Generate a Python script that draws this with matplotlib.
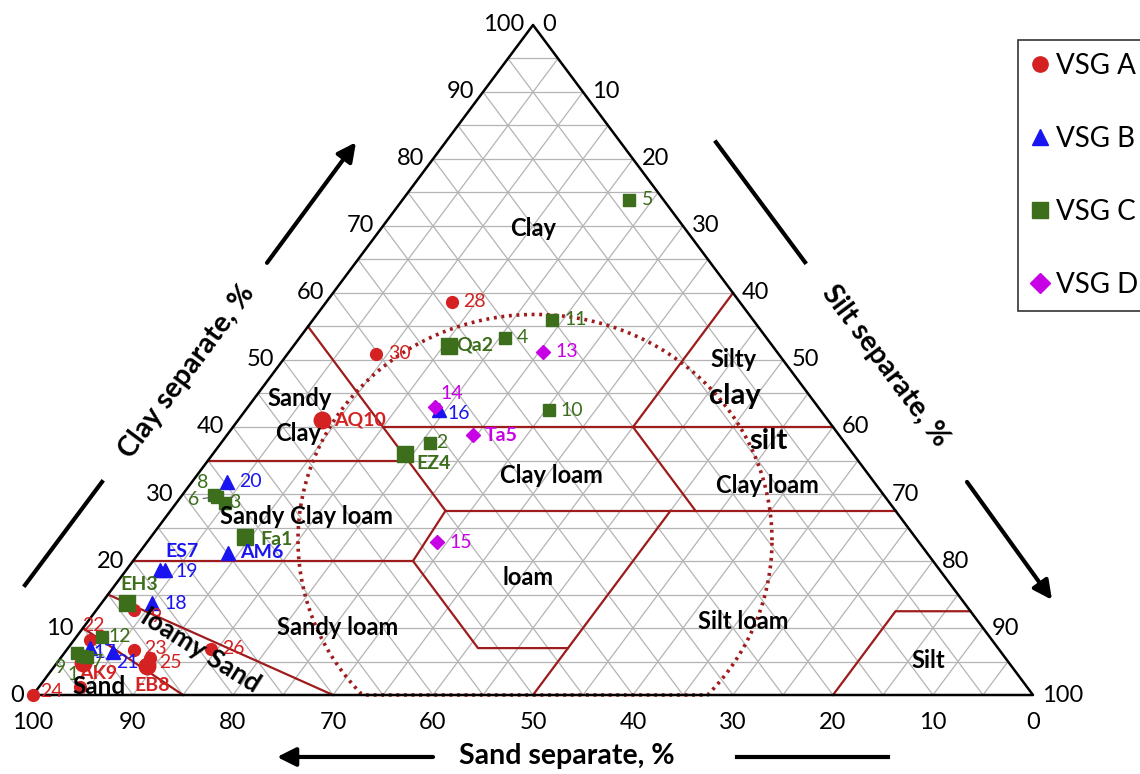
import numpy as np
import matplotlib.pyplot as plt
from matplotlib.lines import Line2D

plt.rcParams['font.family'] = ['Lato', 'DejaVu Sans']

# ---- sample data: sand %, clay % (silt is the rest) ----
a_labels = ['28', '30', 'AQ10', '26', '9', '22', '23', '25', 'EB8', 'AK9', '24', '']
a_sand = [28.8, 40.2, 50.6, 78.8, 83.6, 90.2, 86.6, 85.6, 86.4, 92.6, 100.0, 94.7]
a_clay = [58.7, 50.9, 41.0, 6.9, 12.7, 8.2, 6.7, 5.5, 4.3, 4.8, 0.0, 1.2]

b_labels = ['20', 'ES7', '19', 'AM6', '18', '17', '21', '16']
b_sand = [64.7, 77.9, 77.4, 69.9, 81.2, 90.8, 88.8, 38.2]
b_clay = [31.8, 18.7, 18.7, 21.2, 13.7, 7.0, 6.4, 42.5]

c_labels = ['5', '11', '4', 'Qa2', '10', '2', 'EZ4', '8', '6', '3', 'Fa1', 'EH3', '12', '7', '9', '1']
c_sand = [3.4, 20.1, 26.2, 32.4, 27.2, 41.5, 44.8, 66.9, 66.8, 66.4, 67.0, 83.8, 88.7, 91.7, 92.4, 92.2]
c_clay = [73.9, 56.0, 53.3, 52.1, 42.5, 37.6, 36.0, 29.9, 29.6, 28.7, 23.6, 13.7, 8.7, 5.7, 6.3, 5.8]

d_labels = ['13', '14', 'Ta5', '15']
d_sand = [23.4, 38.3, 36.6, 48.2]
d_clay = [51.2, 43.0, 38.8, 22.8]

# USDA texture class boundaries as (sand, clay) polylines
boundaries = [
    [(45, 55), (45, 27.5)],
    [(45, 40), (0, 40)],
    [(65, 35), (45, 35)],
    [(45, 27.5), (0, 27.5)],
    [(45, 27.5), (52, 20)],
    [(80, 20), (52, 20)],
    [(52, 20), (52, 7), (43, 7)],
    [(50, 0), (22.5, 27.5)],
    [(20, 40), (20, 27.5)],
    [(20, 40), (0, 60)],
    [(85, 15), (70, 0)],
    [(90, 10), (85, 0)],
    [(20, 0), (7.5, 12.5), (0, 12.5)],
]

RED = '#d42222'
BLUE = '#1a14f0'
GREEN = '#3c6e1c'
MAGENTA = '#c800e6'
BORDER = '#9e1c1c'


def to_xy(sand, clay):
    sand = np.asarray(sand, dtype=float)
    clay = np.asarray(clay, dtype=float)
    silt = 100 - sand - clay
    return silt + clay / 2, clay


fig = plt.figure(figsize=(11.4, 7.74), dpi=100)
ax = fig.add_axes([0, 0, 1, 1])
ax.set_xlim(-3.3, 110.7)
ax.set_ylim(-11.79, 103.73)
ax.axis('off')

# grid every 5 %
for v in range(5, 100, 5):
    x, y = to_xy([100 - v, 0], [v, v])
    ax.plot(x, y, color='#b4b4b4', lw=0.9, zorder=1)
    x, y = to_xy([v, v], [0, 100 - v])
    ax.plot(x, y, color='#b4b4b4', lw=0.9, zorder=1)
    x, y = to_xy([100 - v, 0], [0, 100 - v])
    ax.plot(x, y, color='#b4b4b4', lw=0.9, zorder=1)

for seg in boundaries:
    s, c = zip(*seg)
    x, y = to_xy(s, c)
    ax.plot(x, y, color=BORDER, lw=1.6, zorder=2)

x, y = to_xy([100, 0, 0, 100], [0, 0, 100, 0])
ax.plot(x, y, color='black', lw=1.8, zorder=3)

# dotted envelope
t = np.linspace(0, 2 * np.pi, 500)
ex = 50.2 + 23.7 * np.cos(t)
ey = np.maximum(23.1 + 33.7 * np.sin(t), 0)
ax.plot(ex, ey, color=BORDER, lw=2.6, ls=(0, (0.8, 1.3)), zorder=2.5)

# tick labels
for v in range(0, 101, 10):
    ax.annotate(str(v), to_xy(v, 0), xytext=(0, -27), textcoords='offset pixels',
                ha='center', va='center', fontsize=17)
    ax.annotate(str(v), to_xy(100 - v, v), xytext=(-9, 0), textcoords='offset pixels',
                ha='right', va='center', fontsize=17)
    ax.annotate(str(v), to_xy(0, 100 - v), xytext=(9, 0), textcoords='offset pixels',
                ha='left', va='center', fontsize=17)

# axis titles and arrows
ax.text(15.4, 48.2, 'Clay separate, %', rotation=53.3, ha='center', va='center',
        fontsize=20.5, fontweight='bold', rotation_mode='anchor')
ax.text(85.2, 49.1, 'Silt separate, %', rotation=-53.3, ha='center', va='center',
        fontsize=20.5, fontweight='bold', rotation_mode='anchor')
ax.text(53.4, -9.1, 'Sand separate, %', ha='center', va='center',
        fontsize=20.5, fontweight='bold')

arrow = dict(arrowstyle='-|>', lw=3, color='black', mutation_scale=28,
             shrinkA=0, shrinkB=0)
ax.annotate('', xy=(32.3, 82.5), xytext=(23.4, 64.5), arrowprops=arrow)
ax.plot([-0.8, 6.9], [16.4, 31.8], color='black', lw=3)
ax.plot([68.3, 77.2], [82.5, 64.6], color='black', lw=3)
ax.annotate('', xy=(101.9, 14.2), xytext=(93.4, 31.8), arrowprops=arrow)
ax.annotate('', xy=(24.4, -9.25), xytext=(40.0, -9.25), arrowprops=arrow)
ax.plot([70.4, 85.5], [-9.25, -9.25], color='black', lw=3)

# class names
cls = dict(ha='center', va='center', fontweight='bold', zorder=7)
ax.text(50.0, 69.7, 'Clay', fontsize=17, **cls)
ax.text(26.7, 44.3, 'Sandy', fontsize=17, **cls)
ax.text(26.5, 39.0, 'Clay', fontsize=17, **cls)
ax.text(70.1, 50.0, 'Silty', fontsize=17, **cls)
ax.text(70.2, 44.6, 'clay', fontsize=21, **cls)
ax.text(73.5, 37.9, 'silt', fontsize=21, **cls)
ax.text(51.8, 32.7, 'Clay loam', fontsize=17, **cls)
ax.text(73.4, 31.2, 'Clay loam', fontsize=17, **cls)
ax.text(27.4, 26.6, 'Sandy Clay loam', fontsize=17, **cls)
ax.text(49.5, 17.5, 'loam', fontsize=17, **cls)
ax.text(30.5, 10.1, 'Sandy loam', fontsize=17, **cls)
ax.text(71.0, 10.9, 'Silt loam', fontsize=17, **cls)
ax.text(89.5, 5.2, 'Silt', fontsize=17, **cls)
ax.text(16.8, 6.6, 'loamy Sand', fontsize=19, rotation=-32, **cls)
ax.text(6.6, 1.3, 'Sand', fontsize=17.5, **cls)

# label offsets in pixels (dx, dy, ha); default is to the right
offsets = {
    ('A', '9'): (17, -7, 'left'), ('A', '22'): (3, 15, 'center'),
    ('A', '23'): (11, 2, 'left'), ('A', '25'): (10, -4, 'left'),
    ('A', 'EB8'): (5, -19, 'center'), ('A', 'AK9'): (15, -11, 'center'),
    ('A', '24'): (7, 4, 'left'),
    ('B', 'ES7'): (22, 18, 'center'), ('B', '19'): (10, -2, 'left'),
    ('B', '17'): (3, -4, 'left'), ('B', '21'): (3, -10, 'left'),
    ('B', '16'): (9, -3, 'left'),
    ('C', 'EZ4'): (11, -10, 'left'), ('C', '8'): (-6, 12, 'right'),
    ('C', '6'): (-18, -3, 'right'), ('C', '3'): (4, 0, 'left'),
    ('C', 'Fa1'): (15, -3, 'left'), ('C', 'EH3'): (13, 19, 'center'),
    ('C', '12'): (6, 0, 'left'), ('C', '7'): (5, -6, 'left'),
    ('C', '9'): (-11, -15, 'right'), ('C', '1'): (-3, -18, 'right'),
    ('C', '2'): (6, 1, 'left'), ('C', 'Qa2'): (8, 1, 'left'),
    ('D', '14'): (5, 13, 'left'),
}

groups = [
    ('A', 'VSG A', a_labels, a_sand, a_clay, RED, 'o', 8.5),
    ('B', 'VSG B', b_labels, b_sand, b_clay, BLUE, '^', 9.5),
    ('C', 'VSG C', c_labels, c_sand, c_clay, GREEN, 's', 8.0),
    ('D', 'VSG D', d_labels, d_sand, d_clay, MAGENTA, 'D', 7.5),
]

handles = []
for key, name, labels, sand, clay, color, marker, ms in groups:
    xs, ys = to_xy(sand, clay)
    for lab, x, y in zip(labels, xs, ys):
        named = any(ch.isalpha() for ch in lab)
        size = ms * 1.4 if named and marker in 'os' else ms
        ax.plot(x, y, marker=marker, color=color, ms=size, ls='none', zorder=5)
        if not lab:
            continue
        dx, dy, ha = offsets.get((key, lab), (12, 0, 'left'))
        props = None
        if (key, lab) == ('C', '6'):
            props = dict(arrowstyle='-', color='#555555', lw=0.8, shrinkA=1, shrinkB=5)
        ax.annotate(lab, (x, y), xytext=(dx, dy), textcoords='offset pixels',
                    ha=ha, va='center', color=color, fontsize=14,
                    fontweight='bold' if named else 'normal', zorder=6,
                    arrowprops=props)
    handles.append(Line2D([], [], marker=marker, color=color, ls='none',
                          ms=11 if marker != 'D' else 10, label=name))

leg = fig.legend(handles=handles, loc='upper left',
                 bbox_to_anchor=(1018 / 1140, 734 / 774), bbox_transform=fig.transFigure,
                 borderaxespad=0, fontsize=20, frameon=True, fancybox=False,
                 edgecolor='black', borderpad=0.45, labelspacing=1.7,
                 handlelength=0.7, handletextpad=0.2)
leg.get_frame().set_linewidth(1.2)

fig.savefig('out.png', dpi=100)
